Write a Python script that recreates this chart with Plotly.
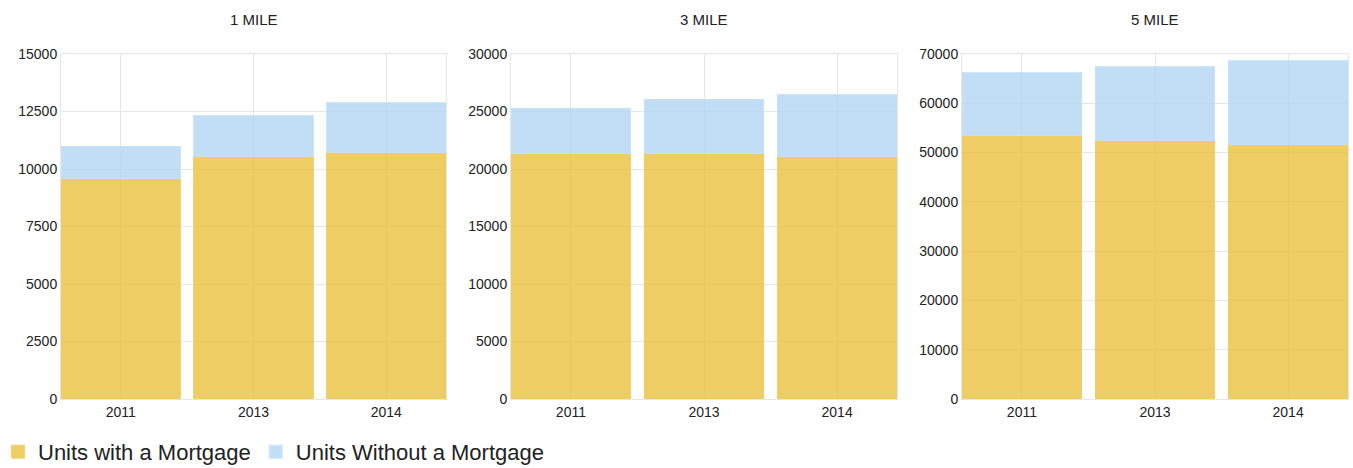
import plotly.graph_objects as go

years = ["2011", "2013", "2014"]
panels = ["1 MILE", "3 MILE", "5 MILE"]
with_mortgage = {
    "1 MILE": [9590, 10530, 10730],
    "3 MILE": [21350, 21350, 21090],
    "5 MILE": [53510, 52500, 51540],
}
without_mortgage = {
    "1 MILE": [1390, 1790, 2140],
    "3 MILE": [3950, 4710, 5380],
    "5 MILE": [12700, 14930, 17050],
}
y_max = [15000, 30000, 70000]
y_dtick = [2500, 5000, 10000]

W, H = 1353, 468
ML, MR, MT, MB = 61, 5, 54, 69
PW = W - ML - MR
PH = H - MT - MB
x_doms = [(61, 446), (511, 897), (962, 1348)]

c_yel = "rgba(234,192,62,0.8)"
c_yel_line = "rgba(240,205,100,0.9)"
c_blue = "rgba(178,214,244,0.8)"
c_blue_line = "rgba(200,225,248,0.9)"

fig = go.Figure()
font = "Liberation Sans, Arial, sans-serif"
for i, p in enumerate(panels):
    xa = "x" if i == 0 else f"x{i+1}"
    ya = "y" if i == 0 else f"y{i+1}"
    fig.add_trace(go.Bar(x=years, y=with_mortgage[p], name="Units with a Mortgage",
                         marker=dict(color=c_yel, line=dict(color=c_yel_line, width=1)),
                         xaxis=xa, yaxis=ya, showlegend=(i == 0), legendgroup="a"))
    fig.add_trace(go.Bar(x=years, y=without_mortgage[p], name="Units Without a Mortgage",
                         marker=dict(color=c_blue, line=dict(color=c_blue_line, width=1)),
                         xaxis=xa, yaxis=ya, showlegend=(i == 0), legendgroup="b"))
    x0, x1 = x_doms[i]
    xkey = "xaxis" if i == 0 else f"xaxis{i+1}"
    ykey = "yaxis" if i == 0 else f"yaxis{i+1}"
    fig.update_layout(**{
        xkey: dict(domain=[(x0 - ML) / PW, (x1 - ML) / PW], anchor=ya, type="category",
                   range=[-0.45, len(years) - 0.55],
                   showgrid=True, gridcolor="#e6e6e6", showline=True, linecolor="#e6e6e6",
                   mirror=True, ticks="", automargin=False,
                   tickfont=dict(size=14, color="#222", family=font)),
        ykey: dict(domain=[0, 1], anchor=xa, range=[0, y_max[i]], dtick=y_dtick[i],
                   tickformat="d",
                   showgrid=True, gridcolor="#e6e6e6", showline=True, linecolor="#e6e6e6",
                   mirror=True, ticks="", zeroline=False, automargin=False,
                   tickfont=dict(size=14, color="#222", family=font)),
    })
    fig.add_annotation(text=p, x=((x0 + x1) / 2 - ML) / PW, y=1 + (54 - 19) / PH,
                       xref="paper", yref="paper",
                       showarrow=False, font=dict(size=15, color="#222", family=font),
                       xanchor="center", yanchor="middle")

fig.update_layout(
    width=W, height=H, barmode="stack", bargap=0.1,
    margin=dict(l=ML, r=MR, t=MT, b=MB, autoexpand=False),
    plot_bgcolor="white", paper_bgcolor="white",
    legend=dict(orientation="h", x=-(ML + 2) / PW, xanchor="left",
                y=-(452 - (H - MB)) / PH, yanchor="middle",
                font=dict(size=22, color="#222", family=font),
                tracegroupgap=0, itemsizing="constant", itemwidth=30),
    font=dict(family=font),
)
fig.write_html("out.html", config={"displayModeBar": False},
               post_script="document.body.style.margin='0px';document.body.style.overflow='hidden';")
